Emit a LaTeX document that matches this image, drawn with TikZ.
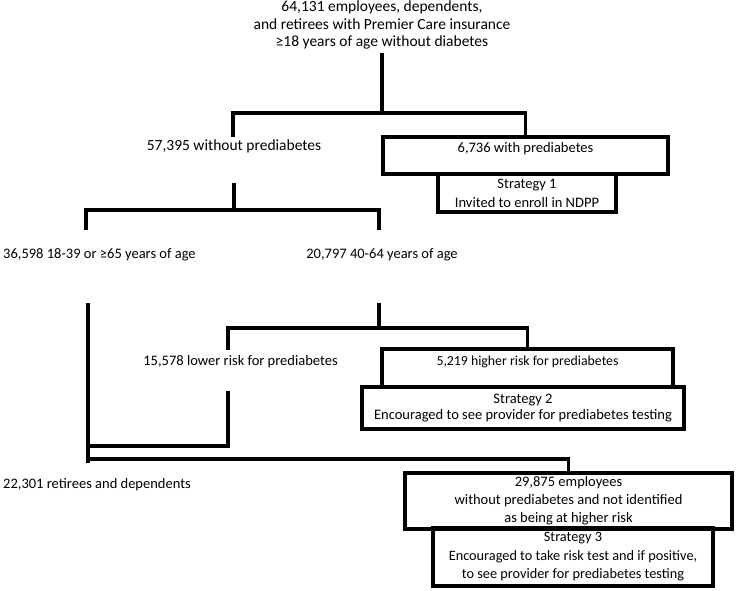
\documentclass[tikz,border=0pt]{standalone}
\usepackage{fontspec}
\setmainfont{Carlito}
\begin{document}
\begin{tikzpicture}[x=1pt,y=-1pt,
  every node/.style={font=\fontsize{14.5}{18}\selectfont, inner sep=1pt},
  big/.style={font=\fontsize{15.5}{17.5}\selectfont},
  txt/.style={align=center},
  boxnode/.style={draw, line width=3.4pt, inner sep=0pt, outer sep=0pt},
  boxlabel/.style={anchor=base, inner sep=0pt},
  conn/.style={line width=3.4pt, line cap=rect}]
\useasboundingbox (0,0) rectangle (750,590);
% text nodes
\node[txt, big] (top) at (382,25) {64,131 employees, dependents,\\and retirees with Premier Care insurance\\≥18 years of age without diabetes};
\node[txt, big] (without) at (234,146) {57,395 without prediabetes};
\node[txt, anchor=west] (age1) at (2,255) {36,598 18-39 or ≥65 years of age};
\node[txt] (age2) at (382,255) {20,797 40-64 years of age};
\node[txt] (lower) at (240.5,362) {15,578 lower risk for prediabetes};
\node[txt, anchor=west] (retirees) at (2,485) {22,301 retirees and dependents};
% boxes
\node[boxnode, minimum width=285, minimum height=37,
  label={[boxlabel, yshift=-15pt]north:6,736 with prediabetes}] (with) at (525.5,155.5) {};
\node[boxnode, minimum width=178, minimum height=38, txt, font=\fontsize{14.5}{19}\selectfont] (s1) at (527,193) {Strategy 1\\Invited to enroll in NDPP};
\node[boxnode, minimum width=291, minimum height=38,
  label={[boxlabel, yshift=-16pt, font=\fontsize{13.8}{17}\selectfont]north:5,219 higher risk for prediabetes}] (higher) at (527.5,368) {};
\node[boxnode, minimum width=322, minimum height=42, txt, font=\fontsize{14.5}{15.5}\selectfont] (s2) at (523,408) {Strategy 2\\Encouraged to see provider for prediabetes testing};
\node[boxnode, minimum width=327, minimum height=56, txt] (emp) at (568.5,501) {29,875 employees\\without prediabetes and not identified\\as being at higher risk};
\node[boxnode, minimum width=280, minimum height=58, txt, font=\fontsize{14.3}{18.5}\selectfont] (s3) at (573,557) {Strategy 3\\Encouraged to take risk test and if positive,\\to see provider for prediabetes testing};
% junction coordinates
\coordinate (j0) at (382,55);
\coordinate (j1) at (382,113);
\coordinate (j1l) at (233,113);
\coordinate (j1le) at (233,135);
\coordinate (j2) at (234,210);
\coordinate (j2s) at (234,185);
\coordinate (j2l) at (86,210);
\coordinate (j2le) at (86,228);
\coordinate (j2r) at (379,210);
\coordinate (j2re) at (379,228);
\coordinate (j3s) at (379,305);
\coordinate (j3) at (379,328);
\coordinate (j3l) at (228,328);
\coordinate (j3le) at (228,348);
\coordinate (j4s) at (228,393);
\coordinate (j4) at (228,446);
\coordinate (j5s) at (88,305);
\coordinate (j5) at (88,446);
\coordinate (j5b) at (88,461);
\coordinate (j6) at (88,459);
% connectors
\draw[conn] (j0) -- (j1);
\draw[conn] (j1le) -- (j1l) -- (j1) -| (with.north);
\draw[conn] (j2s) -- (j2);
\draw[conn] (j2le) -- (j2l) -- (j2r) -- (j2re);
\draw[conn] (j3s) -- (j3);
\draw[conn] (j3le) -- (j3l) -- (j3) -| (higher.north);
\draw[conn] (j4s) -- (j4) -- (j5);
\draw[conn] (j5s) -- (j5b);
\draw[conn] (j6) -| (emp.north);
\end{tikzpicture}
\end{document}
